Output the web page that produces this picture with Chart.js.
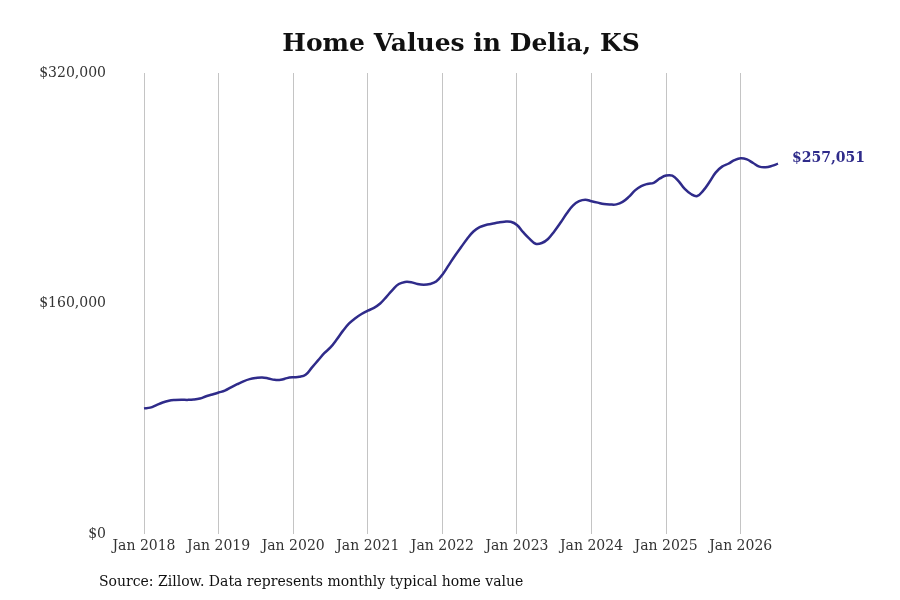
<!DOCTYPE html>
<html>
<head>
<meta charset="utf-8">
<script src="https://cdn.jsdelivr.net/npm/chart.js@4"></script>
<style>
  html, body { margin: 0; padding: 0; background: #fff; }
  #wrap { width: 900px; height: 600px; }
</style>
</head>
<body>
<div id="wrap"><canvas id="homeChart"></canvas></div>
<script>
/* Home values, monthly, Jan 2018 – Jul 2026 */
const monthNames = ['Jan','Feb','Mar','Apr','May','Jun','Jul','Aug','Sep','Oct','Nov','Dec'];
const years = [2018, 2019, 2020, 2021, 2022, 2023, 2024, 2025, 2026];

const homeValues = [
  87200, 87700, 89500, 91300, 92500, 93000, 93200, 93100, 93300, 94000, 95600, 96800,         // 2018
  98200, 99500, 101800, 104000, 106000, 107500, 108300, 108700, 108000, 107000, 107000, 108200, // 2019
  108800, 109100, 110500, 115500, 120500, 125500, 129500, 135000, 141000, 146200, 149800, 152700, // 2020
  155000, 157000, 160000, 164600, 169500, 173500, 175000, 174800, 173500, 173000, 173500, 175200, // 2021
  180000, 186500, 193000, 199000, 205000, 210000, 213000, 214500, 215300, 216200, 216800, 216700, // 2022
  214500, 209500, 205000, 201500, 202000, 204800, 210000, 216000, 222500, 228000, 231000, 232000, // 2023
  231000, 230000, 229000, 228700, 228800, 230500, 234000, 238500, 241500, 243000, 243800, 246800, // 2024
  248800, 248700, 245000, 239500, 236000, 234600, 238500, 244500, 251000, 255000, 257000, 259500, // 2025
  260800, 260000, 257500, 255000, 254600, 255500, 257051                                          // 2026
];

const yTicks = [0, 160000, 320000];

const labels = [];
years.forEach(y => monthNames.forEach(m => labels.push(m + ' ' + y)));
labels.length = homeValues.length;

const lineColor = '#2f2b8a';
const serif = "'DejaVu Serif', 'Liberation Serif', serif";

const fmt = v => '$' + v.toLocaleString('en-US');

const extras = {
  id: 'extras',
  afterDraw(chart) {
    const c = chart.ctx;
    const area = chart.chartArea;
    c.save();
    // title
    c.fillStyle = '#111';
    c.font = 'bold 25px ' + serif;
    c.textAlign = 'center';
    c.textBaseline = 'middle';
    c.fillText('Home Values in Delia, KS', (area.left + area.right) / 2, 44);
    // last value label
    const meta = chart.getDatasetMeta(0);
    const last = meta.data[meta.data.length - 1];
    c.fillStyle = lineColor;
    c.font = 'bold 14px ' + serif;
    c.textAlign = 'left';
    c.fillText(fmt(homeValues[homeValues.length - 1]), last.x + 14, last.y - 5);
    // source
    c.fillStyle = '#111';
    c.font = '14px ' + serif;
    c.fillText('Source: Zillow. Data represents monthly typical home value', 99, 582);
    c.restore();
  }
};

new Chart(document.getElementById('homeChart'), {
  type: 'line',
  data: {
    labels: labels,
    datasets: [{
      data: homeValues,
      borderColor: lineColor,
      borderWidth: 2.5,
      pointRadius: 0,
      tension: 0.4,
      fill: false
    }]
  },
  options: {
    responsive: true,
    maintainAspectRatio: false,
    animation: false,
    layout: { padding: { top: 73, right: 122, bottom: 40, left: 0 } },
    scales: {
      x: {
        offset: false,
        border: { display: false },
        grid: {
          drawTicks: false,
          color: c => (labels[c.index] || '').startsWith('Jan') ? '#c4c4c4' : 'rgba(0,0,0,0)'
        },
        ticks: {
          autoSkip: false,
          maxRotation: 0,
          padding: 4,
          color: '#333',
          font: { family: serif, size: 14 },
          callback: (v, i) => labels[i].startsWith('Jan') ? labels[i] : ''
        },
        afterFit: s => { s.height = 26; }
      },
      y: {
        min: 0,
        max: 320000,
        border: { display: false },
        grid: { display: false },
        afterBuildTicks: s => { s.ticks = yTicks.map(v => ({ value: v })); },
        ticks: {
          padding: 30,
          color: '#333',
          font: { family: serif, size: 14 },
          callback: v => fmt(v)
        },
        afterFit: s => { s.width = 144; }
      }
    },
    plugins: {
      legend: { display: false },
      tooltip: { enabled: false }
    }
  },
  plugins: [extras]
});
</script>
</body>
</html>
